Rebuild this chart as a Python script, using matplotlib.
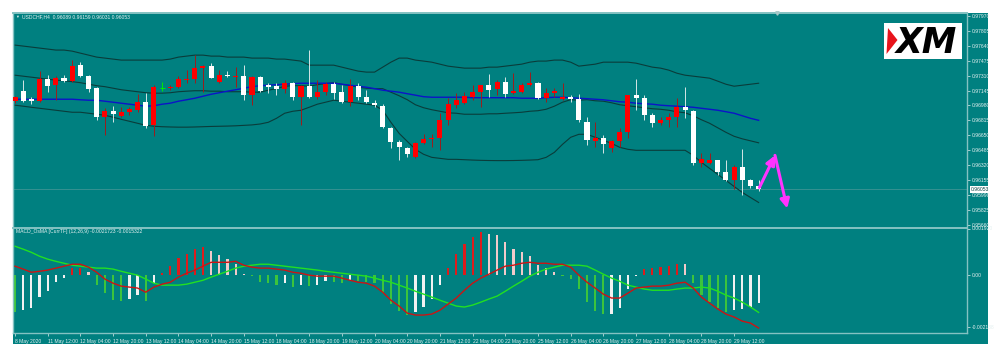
import numpy as np
import matplotlib
matplotlib.use("Agg")
import matplotlib.pyplot as plt
from matplotlib.patches import Rectangle, Polygon
import matplotlib.transforms as mtransforms

plt.rcParams['font.family'] = ['Liberation Sans', 'DejaVu Sans']

# ---------------- data ----------------
symbol_title = "USDCHF,H4  0.96089 0.96159 0.96031 0.96053"
osma_title = "MACD_OsMA [CurrTF] (12,26,9) -0.0021723 -0.0015322"

open_ = [0.97027, 0.97138, 0.97047, 0.97027, 0.97271, 0.97205, 0.97282, 0.97249, 0.97427, 0.97305,
         0.97171, 0.96850, 0.96916, 0.96861, 0.96905, 0.96927, 0.97016, 0.96761, 0.97171, 0.97171,
         0.97183, 0.97260, 0.97271, 0.97393, 0.97416, 0.97238, 0.97316, 0.97294, 0.97305, 0.97094,
         0.97294, 0.97205, 0.97194, 0.97160, 0.97227, 0.97072, 0.97194, 0.97072, 0.97127, 0.97216,
         0.97127, 0.97016, 0.97194, 0.97072, 0.97005, 0.96972, 0.96728, 0.96572, 0.96505, 0.96405,
         0.96561, 0.96605, 0.96616, 0.96816, 0.96983, 0.97005, 0.97072, 0.97127, 0.97205, 0.97160,
         0.97238, 0.97116, 0.97127, 0.97205, 0.97227, 0.97060, 0.97116, 0.97049, 0.97072, 0.97049,
         0.96794, 0.96583, 0.96616, 0.96505, 0.96583, 0.96683, 0.97094, 0.97060, 0.96872, 0.96783,
         0.96816, 0.96850, 0.96961, 0.96916, 0.96339, 0.96339, 0.96372, 0.96239, 0.96161, 0.96294,
         0.96161, 0.96089]
high_ = [0.97083, 0.97260, 0.97072, 0.97360, 0.97316, 0.97305, 0.97316, 0.97482, 0.97460, 0.97316,
         0.97183, 0.96950, 0.96972, 0.96961, 0.96961, 0.97105, 0.97116, 0.97205, 0.97238, 0.97205,
         0.97305, 0.97371, 0.97538, 0.97427, 0.97449, 0.97371, 0.97360, 0.97405, 0.97427, 0.97305,
         0.97305, 0.97227, 0.97227, 0.97260, 0.97238, 0.97205, 0.97593, 0.97260, 0.97238, 0.97238,
         0.97205, 0.97271, 0.97227, 0.97149, 0.97038, 0.96994, 0.96739, 0.96594, 0.96517, 0.96572,
         0.96661, 0.96661, 0.96894, 0.97060, 0.97116, 0.97127, 0.97205, 0.97210, 0.97327, 0.97260,
         0.97294, 0.97338, 0.97227, 0.97349, 0.97238, 0.97171, 0.97171, 0.97227, 0.97094, 0.97105,
         0.96850, 0.96794, 0.96650, 0.96594, 0.96728, 0.97100, 0.97271, 0.97094, 0.96894, 0.96850,
         0.96894, 0.97060, 0.97183, 0.96927, 0.96450, 0.96450, 0.96380, 0.96372, 0.96317, 0.96494,
         0.96172, 0.96159]
low_ = [0.97005, 0.97016, 0.96994, 0.97020, 0.97127, 0.97038, 0.97238, 0.97238, 0.97294, 0.97127,
        0.96816, 0.96650, 0.96794, 0.96850, 0.96872, 0.96905, 0.96728, 0.96639, 0.97138, 0.97149,
        0.97171, 0.97227, 0.97227, 0.97127, 0.97280, 0.97227, 0.97294, 0.97183, 0.97038, 0.96983,
        0.97127, 0.97116, 0.97094, 0.97116, 0.97038, 0.96761, 0.97060, 0.97049, 0.97094, 0.97049,
        0.97005, 0.96972, 0.97038, 0.97005, 0.96961, 0.96728, 0.96505, 0.96372, 0.96405, 0.96395,
        0.96555, 0.96517, 0.96483, 0.96761, 0.96950, 0.96994, 0.97038, 0.96961, 0.97072, 0.97094,
        0.97072, 0.97110, 0.97116, 0.97194, 0.97055, 0.97016, 0.97072, 0.97038, 0.97016, 0.96794,
        0.96539, 0.96517, 0.96450, 0.96470, 0.96517, 0.96616, 0.96927, 0.96816, 0.96739, 0.96761,
        0.96739, 0.96739, 0.96839, 0.96317, 0.96294, 0.96335, 0.96206, 0.96139, 0.96061, 0.95995,
        0.96072, 0.96031]
close_ = [0.97072, 0.97027, 0.97030, 0.97271, 0.97194, 0.97282, 0.97249, 0.97416, 0.97305, 0.97160,
          0.96850, 0.96916, 0.96883, 0.96905, 0.96938, 0.97016, 0.96750, 0.97183, 0.97171, 0.97183,
          0.97271, 0.97271, 0.97393, 0.97416, 0.97282, 0.97316, 0.97305, 0.97305, 0.97094, 0.97294,
          0.97138, 0.97183, 0.97160, 0.97227, 0.97072, 0.97194, 0.97072, 0.97127, 0.97216, 0.97116,
          0.97016, 0.97194, 0.97072, 0.97016, 0.96983, 0.96739, 0.96572, 0.96517, 0.96439, 0.96561,
          0.96605, 0.96616, 0.96816, 0.96994, 0.97038, 0.97083, 0.97127, 0.97205, 0.97149, 0.97238,
          0.97105, 0.97138, 0.97205, 0.97227, 0.97060, 0.97116, 0.97138, 0.97072, 0.97049, 0.96816,
          0.96594, 0.96616, 0.96550, 0.96583, 0.96683, 0.97094, 0.97060, 0.96872, 0.96783, 0.96816,
          0.96850, 0.96961, 0.96927, 0.96339, 0.96383, 0.96372, 0.96239, 0.96161, 0.96294, 0.96161,
          0.96084, 0.96053]

bb_upper = [0.97648, 0.97637, 0.97626, 0.97615, 0.97604, 0.97593, 0.97593, 0.97581, 0.97559, 0.97537,
            0.97515, 0.97504, 0.97493, 0.97482, 0.97482, 0.97482, 0.97482, 0.97482, 0.97482, 0.97493,
            0.97515, 0.97526, 0.97537, 0.97537, 0.97526, 0.97526, 0.97515, 0.97515, 0.97515, 0.97504,
            0.97504, 0.97504, 0.97493, 0.97493, 0.97482, 0.97471, 0.97426, 0.97426, 0.97426, 0.97426,
            0.97404, 0.97382, 0.97360, 0.97349, 0.97349, 0.97404, 0.97459, 0.97504, 0.97504, 0.97482,
            0.97471, 0.97459, 0.97437, 0.97415, 0.97404, 0.97393, 0.97393, 0.97393, 0.97404, 0.97404,
            0.97415, 0.97426, 0.97437, 0.97459, 0.97471, 0.97471, 0.97482, 0.97482, 0.97459, 0.97415,
            0.97426, 0.97437, 0.97459, 0.97459, 0.97459, 0.97459, 0.97448, 0.97426, 0.97404, 0.97393,
            0.97371, 0.97337, 0.97315, 0.97304, 0.97293, 0.97282, 0.97249, 0.97215, 0.97193, 0.97204,
            0.97215, 0.97226]
bb_middle = [0.97315, 0.97304, 0.97293, 0.97282, 0.97271, 0.97260, 0.97254, 0.97243, 0.97232, 0.97215,
             0.97199, 0.97188, 0.97171, 0.97154, 0.97143, 0.97132, 0.97121, 0.97116, 0.97116, 0.97121,
             0.97132, 0.97138, 0.97143, 0.97143, 0.97138, 0.97138, 0.97132, 0.97132, 0.97132, 0.97127,
             0.97127, 0.97149, 0.97166, 0.97193, 0.97199, 0.97199, 0.97193, 0.97210, 0.97221, 0.97232,
             0.97215, 0.97199, 0.97182, 0.97171, 0.97166, 0.97166, 0.97127, 0.97088, 0.97044, 0.96988,
             0.96955, 0.96933, 0.96916, 0.96899, 0.96894, 0.96883, 0.96883, 0.96883, 0.96888, 0.96888,
             0.96894, 0.96899, 0.96905, 0.96916, 0.96922, 0.96938, 0.96972, 0.97016, 0.97044, 0.97038,
             0.97044, 0.97032, 0.97027, 0.97010, 0.96988, 0.96977, 0.96966, 0.96955, 0.96944, 0.96938,
             0.96927, 0.96910, 0.96899, 0.96866, 0.96822, 0.96783, 0.96733, 0.96683, 0.96639, 0.96611,
             0.96589, 0.96567]
bb_lower = [0.96983, 0.96972, 0.96960, 0.96949, 0.96938, 0.96927, 0.96916, 0.96905, 0.96905, 0.96894,
            0.96883, 0.96872, 0.96850, 0.96827, 0.96805, 0.96783, 0.96761, 0.96750, 0.96745, 0.96742,
            0.96740, 0.96740, 0.96742, 0.96745, 0.96748, 0.96750, 0.96752, 0.96755, 0.96760, 0.96765,
            0.96775, 0.96794, 0.96838, 0.96894, 0.96916, 0.96927, 0.96960, 0.96994, 0.97016, 0.97038,
            0.97027, 0.97016, 0.97005, 0.96994, 0.96983, 0.96927, 0.96794, 0.96672, 0.96583, 0.96495,
            0.96440, 0.96406, 0.96395, 0.96384, 0.96384, 0.96380, 0.96376, 0.96373, 0.96371, 0.96370,
            0.96370, 0.96371, 0.96373, 0.96376, 0.96380, 0.96406, 0.96461, 0.96550, 0.96628, 0.96661,
            0.96661, 0.96628, 0.96594, 0.96561, 0.96517, 0.96495, 0.96484, 0.96484, 0.96484, 0.96484,
            0.96484, 0.96484, 0.96484, 0.96428, 0.96351, 0.96284, 0.96218, 0.96151, 0.96084, 0.96018,
            0.95962, 0.95907]
blue_ma = [0.97049, 0.97049, 0.97049, 0.97049, 0.97049, 0.97049, 0.97049, 0.97049, 0.97043, 0.97038,
           0.97038, 0.97027, 0.97016, 0.97005, 0.96994, 0.96983, 0.96972, 0.96977, 0.96994, 0.97005,
           0.97027, 0.97043, 0.97060, 0.97082, 0.97104, 0.97121, 0.97138, 0.97154, 0.97171, 0.97188,
           0.97199, 0.97204, 0.97210, 0.97215, 0.97221, 0.97226, 0.97226, 0.97226, 0.97226, 0.97226,
           0.97215, 0.97204, 0.97193, 0.97182, 0.97166, 0.97149, 0.97138, 0.97127, 0.97110, 0.97094,
           0.97077, 0.97071, 0.97071, 0.97071, 0.97071, 0.97071, 0.97066, 0.97066, 0.97066, 0.97066,
           0.97066, 0.97066, 0.97060, 0.97060, 0.97060, 0.97066, 0.97071, 0.97071, 0.97066, 0.97060,
           0.97055, 0.97049, 0.97043, 0.97032, 0.97021, 0.97016, 0.97005, 0.96999, 0.96994, 0.96983,
           0.96977, 0.96972, 0.96966, 0.96960, 0.96949, 0.96938, 0.96927, 0.96911, 0.96894, 0.96866,
           0.96838, 0.96816]

# MACD / OsMA panel values, in units of 1e-5
osma_hist_e5 = [-152, -144, -135, -90, -66, -29, -12, 29, 30, 12,
                -41, -74, -103, -105, -100, -82, -107, -33, 8, 37,
                70, 86, 107, 115, 98, 82, 66, 45, 4, -4,
                -29, -33, -41, -33, -49, -41, -45, -41, -25, -27,
                -33, -21, -25, -29, -33, -74, -119, -148, -164, -152,
                -131, -98, -41, 29, 86, 127, 156, 176, 168, 166,
                135, 107, 94, 78, 41, 29, 12, -3, -16, -57,
                -111, -148, -160, -158, -135, -57, -4, 25, 29, 33,
                36, 45, 44, -33, -82, -111, -135, -152, -144, -139,
                -131, -115]
macd_line_e5 = [37, 25, 12, 16, 21, 29, 37, 45, 45, 33,
                12, -16, -33, -45, -49, -53, -70, -49, -37, -29,
                -8, 8, 21, 37, 53, 53, 53, 57, 41, 33,
                29, 29, 25, 21, 12, 8, 0, -4, -4, -4,
                -12, -21, -29, -33, -45, -70, -103, -127, -156, -164,
                -164, -160, -144, -119, -94, -62, -33, -12, 4, 21,
                37, 41, 49, 53, 49, 49, 45, 45, 33, 0,
                -29, -53, -78, -94, -94, -74, -53, -49, -45, -45,
                -41, -33, -29, -53, -90, -115, -139, -160, -172, -189,
                -197, -217.23]
signal_line_e5 = [119, 107, 94, 78, 66, 57, 49, 41, 37, 33,
                  29, 29, 25, 16, 8, 0, -16, -33, -41, -41,
                  -41, -37, -29, -21, -8, 4, 16, 29, 37, 41,
                  45, 45, 41, 37, 33, 29, 25, 21, 16, 12,
                  8, 4, 0, -4, -12, -21, -29, -41, -53, -66,
                  -78, -90, -103, -115, -127, -131, -123, -111, -98, -86,
                  -66, -45, -25, -4, 12, 25, 33, 41, 41, 41,
                  37, 21, 4, -12, -25, -41, -49, -57, -62, -62,
                  -62, -57, -53, -53, -49, -53, -66, -82, -94, -111,
                  -131, -153.22]

date_labels = ["8 May 2020", "11 May 12:00", "12 May 04:00", "12 May 20:00", "13 May 12:00",
               "14 May 04:00", "14 May 20:00", "15 May 12:00", "18 May 04:00", "18 May 20:00",
               "19 May 12:00", "20 May 04:00", "20 May 20:00", "21 May 12:00", "22 May 04:00",
               "22 May 20:00", "25 May 12:00", "26 May 04:00", "26 May 20:00", "27 May 12:00",
               "28 May 04:00", "28 May 20:00", "29 May 12:00"]
bars_per_label = 4

price_ticks = [0.97970, 0.97805, 0.97640, 0.97475, 0.97310, 0.97145, 0.96980, 0.96815,
               0.96650, 0.96485, 0.96320, 0.96155, 0.95990, 0.95825, 0.95660]
osma_ticks = [0.00192, 0.0, -0.00213]
osma_tick_labels = ["0.001920", "0.00", "-0.002138"]

# hand-drawn forecast zig-zag (bar index, price)
forecast_bar = [91.1, 93.0, 94.5]
forecast_price = [0.96073, 0.96428, 0.95840]

# ---------------- style ----------------
W, H = 1000, 355
TEAL = "#008080"
BORDER = "#84c2c2"
TXT = "#e4f0f0"
BULL = "#ff0000"
BULL_WICK = "#9c1c1c"
BEAR = "#ffffff"
BEAR_WICK = "#d6e6e6"
DOJI = "#00ee00"
BAND = "#0a3c3a"
BLUE = "#0c14c8"
H_RED = "#dd1c1c"
H_PINK = "#f2caca"
H_GREEN = "#3cc43c"
H_WHITE = "#f2f2f2"


def fx(px):
    return px / W


def fy(py):
    return 1 - py / H


fig = plt.figure(figsize=(W / 100, H / 100), dpi=100, facecolor="white")
fig.patches.append(Rectangle((fx(13), fy(344)), fx(988) - fx(13), fy(13) - fy(344),
                             transform=fig.transFigure, facecolor=TEAL, edgecolor="none", zorder=-10))

ax = fig.add_axes([fx(13), fy(227.5), fx(967) - fx(13), fy(13) - fy(227.5)])
ax2 = fig.add_axes([fx(13), fy(333), fx(967) - fx(13), fy(228.5) - fy(333)])

n = len(close_)
x = np.arange(n)
XLIM = (-0.245, 116.5)

o = np.array(open_); h = np.array(high_); l = np.array(low_); c = np.array(close_)
bull = c > o
bear = c < o
doji = c == o

for a in (ax, ax2):
    a.set_facecolor(TEAL)
    a.set_xlim(*XLIM)
    for s in a.spines.values():
        s.set_color(BORDER)
        s.set_linewidth(1.0)
ax2.spines["top"].set_visible(False)
ax.spines["bottom"].set_linewidth(1.4)
ax.spines["top"].set_linewidth(1.4)

ax.set_ylim(0.95630, 0.98003)

# bands + MA
ax.plot(x, bb_upper, color=BAND, lw=0.8, zorder=2)
ax.plot(x, bb_middle, color=BAND, lw=0.8, zorder=2)
ax.plot(x, bb_lower, color=BAND, lw=0.8, zorder=2)
ax.plot(x, blue_ma, color=BLUE, lw=1.0, zorder=2)

# current price line
ax.axhline(close_[-1], color="#4a9898", lw=0.5, zorder=1)

# candles
ax.vlines(x[bull], l[bull], h[bull], color=BULL_WICK, lw=0.7, zorder=3)
ax.vlines(x[bear], l[bear], h[bear], color=BEAR_WICK, lw=0.7, zorder=3)
ax.vlines(x[doji], l[doji], h[doji], color=DOJI, lw=0.7, zorder=3)
bw = 0.62
ax.bar(x[bull], (c - o)[bull], bottom=o[bull], width=bw, color=BULL, linewidth=0, zorder=4)
ax.bar(x[bear], (o - c)[bear], bottom=c[bear], width=bw, color=BEAR, linewidth=0, zorder=4)
ax.hlines(o[doji], x[doji] - bw / 2, x[doji] + bw / 2, color=DOJI, lw=0.7, zorder=4)

# forecast arrows
for i in range(len(forecast_bar) - 1):
    ax.annotate("", xy=(forecast_bar[i + 1], forecast_price[i + 1]),
                xytext=(forecast_bar[i], forecast_price[i]),
                arrowprops=dict(arrowstyle="-|>,head_length=0.6,head_width=0.3",
                                color="#ff33ff", lw=2.2, shrinkA=0, shrinkB=0,
                                mutation_scale=9), zorder=6)

# right price axis
ax.yaxis.tick_right()
ax.set_yticks(price_ticks)
ax.set_yticklabels([f"{t:.5f}" for t in price_ticks])
ax.tick_params(axis="y", labelsize=3.6, colors=TXT, length=2, width=0.5, pad=1.2)
ax.set_xticks([])

# current price tag
trans = mtransforms.blended_transform_factory(ax.transAxes, ax.transData)
ax.text(1.004, close_[-1], f"{close_[-1]:.5f}", transform=trans, fontsize=3.6,
        color="#0a4444", va="center", ha="left",
        bbox=dict(boxstyle="square,pad=0.15", facecolor="white", edgecolor="none"), zorder=10, clip_on=False)

# chart-shift marker
ax.plot([93.3], [0.98003], marker="v", ms=2.5, color="#a9c9c9", clip_on=False, zorder=10)

# titles
fig.text(fx(15), fy(17), "\u25bc", fontsize=2.8, color=TXT, va="center", ha="left")
fig.text(fx(21.5), fy(17), symbol_title, fontsize=3.6, color=TXT, va="center", ha="left")
fig.text(fx(15.5), fy(231.5), osma_title, fontsize=3.6, color=TXT, va="center", ha="left")

# XM logo
fig.patches.append(Rectangle((fx(884), fy(59)), fx(962) - fx(884), fy(23) - fy(59),
                             transform=fig.transFigure, facecolor="white", edgecolor="none", zorder=5))
fig.patches.append(Polygon([(fx(888), fy(28)), (fx(897.5), fy(40)), (fx(886.5), fy(54))],
                           closed=True, transform=fig.transFigure, facecolor="#e8141c",
                           edgecolor="none", zorder=6))
fig.text(fx(926), fy(43), "XM", fontsize=25, fontweight="heavy", fontstyle="italic",
         family="DejaVu Sans", color="black", ha="center", va="center", zorder=7)

# ---------------- OsMA panel ----------------
hist = np.array(osma_hist_e5) * 1e-5
macd = np.array(macd_line_e5) * 1e-5
sig = np.array(signal_line_e5) * 1e-5
cols = []
for i, v in enumerate(hist):
    prev = hist[i - 1] if i > 0 else v
    if v >= 0:
        cols.append(H_RED if v >= prev else H_PINK)
    else:
        cols.append(H_GREEN if v <= prev else H_WHITE)
ax2.set_ylim(-0.002378, 0.001906)
ax2.bar(x, hist, width=0.27, color=cols, linewidth=0, zorder=2)
ax2.plot(x, sig, color="#22e022", lw=1.0, zorder=3)
ax2.plot(x, macd, color="#cc1414", lw=1.0, zorder=4)

ax2.yaxis.tick_right()
ax2.set_yticks(osma_ticks)
ax2.set_yticklabels(osma_tick_labels)
ax2.tick_params(axis="y", labelsize=3.6, colors=TXT, length=2, width=0.5, pad=1.2)

tick_pos = x[::bars_per_label][:len(date_labels)]
ax2.set_xticks(tick_pos)
ax2.set_xticklabels(date_labels)
ax2.tick_params(axis="x", labelsize=3.6, colors=TXT, length=2.5, width=0.5, pad=1.5, direction="out")
for t in ax2.get_xticklabels():
    t.set_horizontalalignment("left")

fig.savefig("out.png", dpi=100, facecolor="white")
